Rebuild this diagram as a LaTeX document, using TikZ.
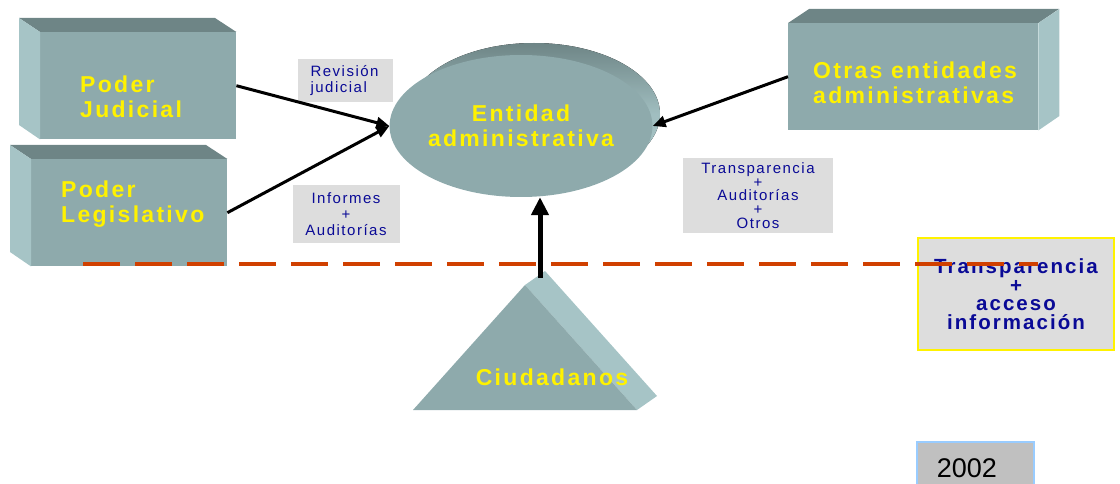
\documentclass[tikz,border=0pt]{standalone}
\usepackage{fontspec}
\setmainfont{Liberation Sans}
\newfontfamily\widefont[LetterSpace=10]{Liberation Sans}
\usetikzlibrary{arrows.meta,shapes.geometric,positioning}
\definecolor{frontcol}{RGB}{142,170,172}
\definecolor{topcol}{RGB}{110,133,134}
\definecolor{sidecol}{RGB}{166,196,198}
\definecolor{notecol}{RGB}{221,221,221}
\definecolor{navycol}{RGB}{10,10,150}
\definecolor{dashcol}{RGB}{208,64,0}
\definecolor{yearcol}{RGB}{192,192,192}
\definecolor{yearline}{RGB}{153,204,255}

\begin{document}
\begin{tikzpicture}[x=1pt,y=-1pt,
        boxsty/.style={
            fill=frontcol, rectangle, inner sep=0pt, minimum height=107pt,
        },
        namesty/.style={
            text=yellow, inner sep=0pt,
            font=\widefont\bfseries\fontsize{23}{25.5}\selectfont,
        },
        notesty/.style={
            fill=notecol, text=navycol,
            font=\widefont\fontsize{15}{16}\selectfont,
        },
        arrsty/.style={
            line width=3pt, -{Triangle[length=13pt,width=11pt]}
        }
    ]
    \clip (0,0) rectangle (1120,484);

    % blocks
    \node[boxsty, minimum width=196pt, anchor=north west] at (40,32) (judicial) {};
    \node[boxsty, minimum width=196pt, anchor=north west] at (31,159) (legislativo) {};
    \node[boxsty, minimum width=250pt, anchor=north west] at (788,23) (otras) {};
    \foreach \b in {judicial,legislativo}{
        \fill[topcol] (\b.north west) -- ++(-21,-14) -- ++(196,0) -- (\b.north east) -- cycle;
        \fill[sidecol] (\b.north west) -- ++(-21,-14) -- ++(0,107) -- (\b.south west) -- cycle;
    }
    \fill[topcol] (otras.north west) -- ++(21,-14) -- ++(250,0) -- (otras.north east) -- cycle;
    \fill[sidecol] (otras.north east) -- ++(21,-14) -- ++(0,107) -- (otras.south east) -- cycle;

    \node[namesty, align=left, anchor=west] at (80,97) (judicialtxt) {Poder\\Judicial};
    \node[namesty, align=left, anchor=west] at (61,204) (legislativotxt) {Poder\\Legislativo};
    \node[namesty, align=left, anchor=west] at (813,83) (otrastxt) {Otras entidades\\administrativas};

    % entidad
    \fill[top color=topcol, bottom color=sidecol, middle color=sidecol!90!topcol] (534,114) ellipse [x radius=126pt, y radius=71pt];
    \node[namesty, ellipse, fill=frontcol, minimum width=252pt, minimum height=142pt, align=center] at (521,126) (entidad) {Entidad\\administrativa};

    % ciudadanos
    \fill[sidecol] (525,285) -- (545,271) -- (657,396) -- (637,410) -- cycle;
    \fill[frontcol] (413,410) -- (637,410) -- (525,285) -- cycle;
    \node[namesty] at (552,377) (ciudadanos) {Ciudadanos};
    \coordinate (ciudtop) at (540,278);

    % notes
    \node[notesty, align=left, text width=70pt, inner xsep=12.5pt, minimum height=43pt] at (345.5,80.5) (revision) {Revisión\\judicial};
    \node[notesty, align=center, minimum width=107pt, minimum height=58pt] at (346,214) (informes) {Informes\\+\\Auditorías};
    \node[notesty, align=center, minimum width=150pt, minimum height=75pt, font=\widefont\fontsize{15}{13.8}\selectfont] at (758,195.5) (transp) {Transparencia\\+\\Auditorías\\+\\Otros};

    \draw[arrsty] (judicial.east) -- (entidad.west);
    \draw[arrsty] (legislativo.east) -- (entidad.west);
    \draw[arrsty] (otras.west) -- (entidad.east);
    \draw[line width=5pt, -{Triangle[length=18pt,width=17pt]}] (ciudtop) -- (ciudtop |- entidad.south);

    \node[fill=notecol, draw=yellow, line width=2.5pt, minimum width=196pt, minimum height=112pt, text=navycol, align=center, font=\widefont\bfseries\fontsize{20.5}{18.5}\selectfont] at (1016,294) (acceso) {Transparencia\\+\\acceso\\información};

    \coordinate (dashL) at (83,264);
    \coordinate (dashR) at (1038,264);
    \draw[dashcol, line width=4pt, dash pattern=on 37pt off 15pt] (dashL) -- (dashR);

    \node[fill=yearcol, draw=yearline, line width=1.5pt, anchor=north west, align=left, text width=77pt, inner xsep=20pt, minimum height=52pt, font=\fontsize{27}{30}\selectfont] at (916,441) (year) {2002};
\end{tikzpicture}
\end{document}
